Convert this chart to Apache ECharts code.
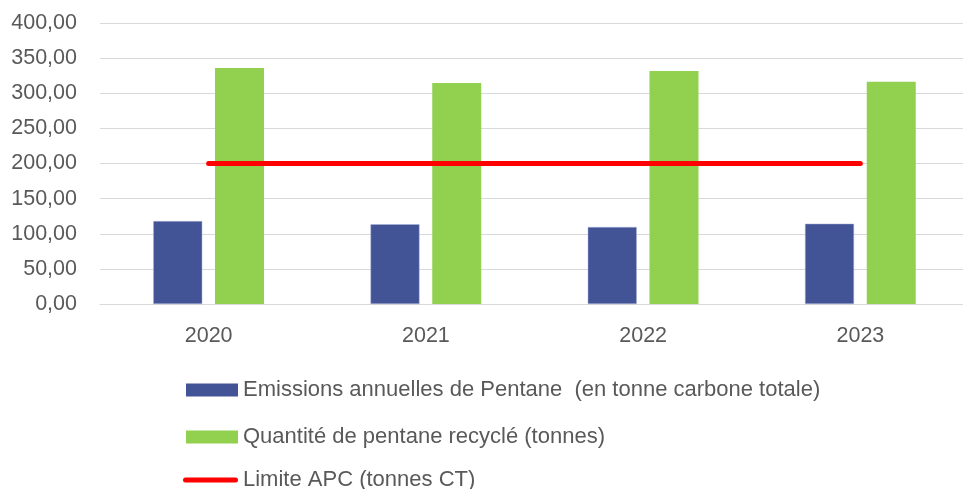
<!DOCTYPE html>
<html>
<head>
<meta charset="utf-8">
<script src="https://cdn.jsdelivr.net/npm/echarts@6/dist/echarts.min.js"></script>
<style>
  html, body { margin: 0; padding: 0; background: #fff; }
  #main { width: 963px; height: 489px; }
</style>
</head>
<body>
<div id="main"></div>
<script>
const years = ["2020", "2021", "2022", "2023"];
const emissions = [118, 113.5, 109.6, 114.3];
const recycled = [336, 314.6, 331.7, 316.4];
const limit = [200, 200, 200, 200];

const nameEmissions = "Emissions annuelles de Pentane  (en tonne carbone totale)";
const nameRecycled = "Quantité de pentane recyclé (tonnes)";
const nameLimit = "Limite APC (tonnes CT)";

const font = "Liberation Sans";
const textColor = "#595959";

const chart = echarts.init(document.getElementById("main"));

const legendText = { color: textColor, fontSize: 22, fontFamily: font };

chart.setOption({
  animation: false,
  grid: { left: 100, top: 23, width: 869, height: 281, outerBoundsMode: "none" },
  xAxis: {
    type: "category",
    data: years,
    axisLine: { lineStyle: { color: "#d9d9d9", width: 1 } },
    axisTick: { show: false },
    axisLabel: { color: textColor, fontSize: 21.5, fontFamily: font, margin: 21 }
  },
  yAxis: {
    type: "value",
    min: 0,
    max: 400,
    interval: 50,
    axisLine: { show: false },
    axisTick: { show: false },
    splitLine: { lineStyle: { color: "#d9d9d9", width: 1 } },
    axisLabel: {
      color: textColor,
      fontSize: 21.5,
      fontFamily: font,
      margin: 23,
      formatter: (v) => v.toFixed(2).replace(".", ",")
    }
  },
  legend: [
    {
      orient: "vertical", left: 181, top: 374, itemWidth: 52, itemHeight: 13,
      selectedMode: false, icon: "rect", textStyle: legendText,
      itemStyle: { borderWidth: 0 },
      data: [nameEmissions]
    },
    {
      orient: "vertical", left: 181, top: 421, itemWidth: 52, itemHeight: 13,
      selectedMode: false, icon: "rect", textStyle: legendText,
      itemStyle: { borderWidth: 0 },
      data: [nameRecycled]
    },
    {
      orient: "vertical", left: 178, top: 464, itemWidth: 55, itemHeight: 5,
      selectedMode: false, textStyle: legendText,
      icon: "path://M2.5,0 L52.5,0 A2.5,2.5 0 0 1 52.5,5 L2.5,5 A2.5,2.5 0 0 1 2.5,0 Z",
      data: [nameLimit]
    }
  ],
  series: [
    {
      name: nameEmissions,
      type: "bar",
      data: emissions,
      barWidth: 49,
      barGap: "26%",
      itemStyle: { color: "#435496", borderColor: "#a9b3d8", borderWidth: 0.5 }
    },
    {
      name: nameRecycled,
      type: "bar",
      data: recycled,
      barWidth: 49,
      itemStyle: { color: "#92D050" }
    },
    {
      name: nameLimit,
      type: "line",
      data: limit,
      showSymbol: false,
      symbol: "none",
      z: 5,
      itemStyle: { color: "#FF0000" },
      lineStyle: { color: "#FF0000", width: 5, cap: "round" }
    }
  ]
});
</script>
</body>
</html>
